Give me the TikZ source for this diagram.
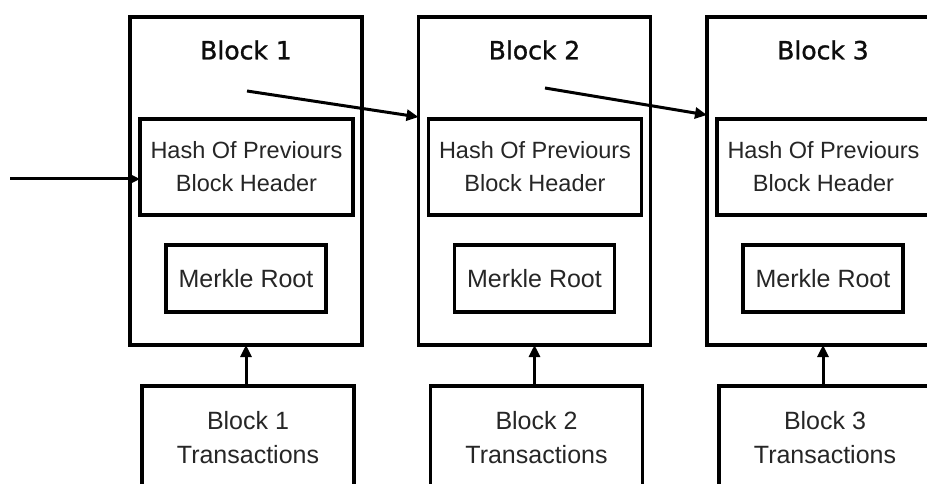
\documentclass[tikz,border=0pt]{standalone}
\usepackage{fontspec}
\setmainfont{Liberation Sans}
\newfontfamily\titlefont[FakeBold=1.2]{DejaVu Sans}
\usetikzlibrary{arrows.meta}
\begin{document}
\begin{tikzpicture}[x=1pt,y=-1pt,
  box/.style={draw=black,line width=3.4pt,rectangle,inner sep=0pt,outer sep=0pt},
  txt/.style={text=black!85,align=center},
  ttl/.style={font=\titlefont\fontsize{25}{30}\selectfont,text=black!95,inner sep=0pt},
  arr/.style={line width=3pt,-{Triangle[length=12pt,width=11pt]}}]
\useasboundingbox (0,0) rectangle (927,484);
\clip (0,0) rectangle (927,484);
\fill[white] (0,0) rectangle (927,484);
\foreach \i/\L in {1/130,2/418.5,3/707}{
  \node[box,minimum width=232pt,minimum height=328pt] (outer\i) at (\L+116,181) {};
  \node[ttl] (title\i) at (\L+116,50) {Block \i};
  \node[box,txt,minimum width=213pt,minimum height=96pt,
        font=\fontsize{23.5}{33}\selectfont] (hash\i) at (\L+116.5,167)
        {Hash Of Previours\\Block Header};
  \node[box,txt,minimum width=160pt,minimum height=67pt,
        font=\fontsize{25}{30}\selectfont] (merkle\i) at (\L+116,278.5) {Merkle Root};
  \node[box,txt,minimum width=212pt,minimum height=104pt,
        font=\fontsize{25}{34}\selectfont] (trans\i) at (\L+118,438)
        {Block \i\\Transactions};
  \draw[arr] (outer\i.south |- trans\i.north) -- (outer\i.south);
}
\coordinate (in) at (10,179);
\draw[arr] (in) -- (in -| hash1.west);
\coordinate (s1) at (247,91);
\coordinate (s2) at (545,88);
\draw[arr] (s1) -- ([yshift=64pt]outer2.west);
\draw[arr] (s2) -- ([yshift=66pt]outer3.west);
\end{tikzpicture}
\end{document}
